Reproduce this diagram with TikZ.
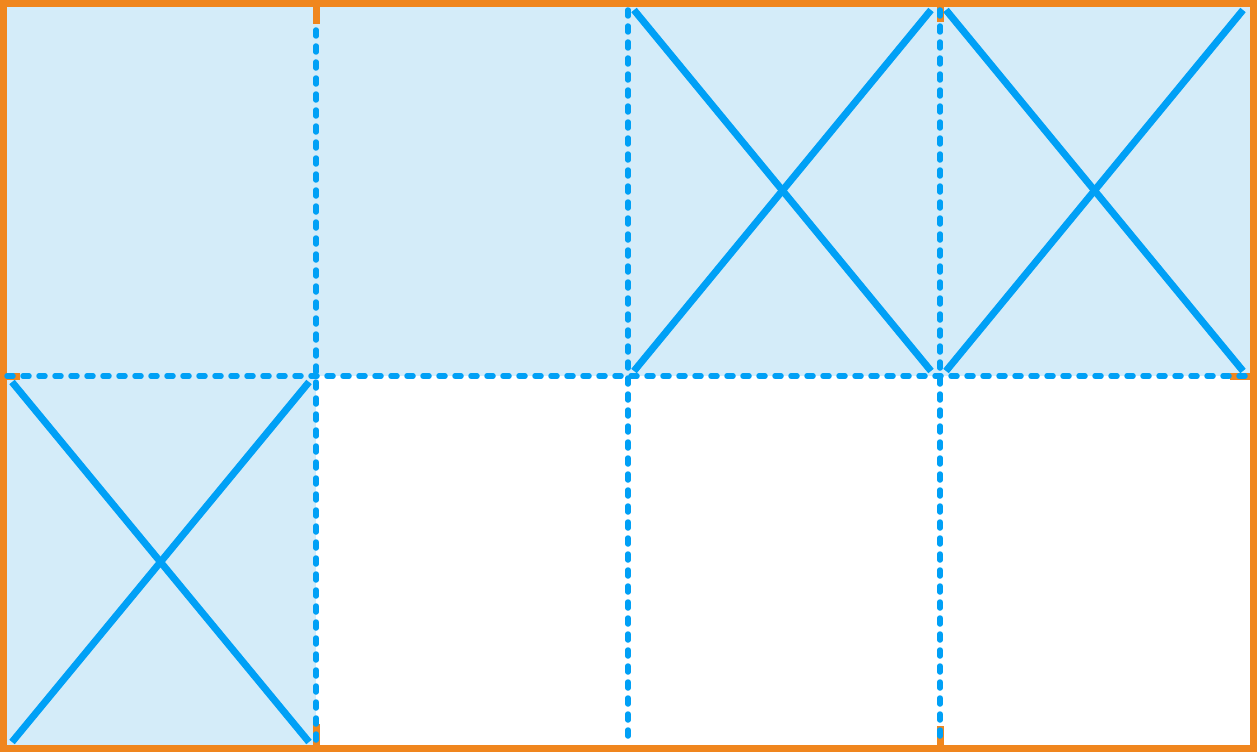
\documentclass[tikz,border=0pt]{standalone}
\definecolor{frameorange}{HTML}{F0861E}
\definecolor{gridblue}{HTML}{00A0F6}
\definecolor{cellfill}{HTML}{D4ECF9}
\tikzset{
  frame/.style={draw=frameorange, line width=7.5pt},
  tick/.style={draw=frameorange, line width=7pt},
  gridline/.style={draw=gridblue, line width=5.5pt, line cap=round, dash pattern=on 6pt off 10pt},
  crossline/.style={draw=gridblue, line width=7pt},
  cellbg/.style={fill=cellfill, draw=none}
}
\begin{document}
\begin{tikzpicture}[x=1pt,y=-1pt]
\useasboundingbox (0,0) rectangle (1257,752);
% fills
\path[cellbg] (0,0) rectangle (1257,376);
\path[cellbg] (0,376) rectangle (316,752);
% orange ticks
\draw[tick] (316,0) -- (316,24);
\draw[tick] (316,724) -- (316,752);
\draw[tick] (940,0) -- (940,22);
\draw[tick] (940,726) -- (940,752);
\draw[tick] (0,376) -- (20,376);
\draw[tick] (1230,376) -- (1257,376);
% frame
\draw[frame] (3.5,3.5) rectangle (1253.5,748.5);
% crosses
\draw[crossline] (634,10) -- (931,371);
\draw[crossline] (931,10) -- (634,371);
\draw[crossline] (946,10) -- (1243,371);
\draw[crossline] (1243,10) -- (946,371);
\draw[crossline] (12,382) -- (309,742);
\draw[crossline] (309,382) -- (12,742);
% dashed grid
\draw[gridline] (316,30) -- (316,745);
\draw[gridline] (628,10) -- (628,745);
\draw[gridline] (940,10) -- (940,745);
\draw[gridline] (7,376) -- (1250,376);
\end{tikzpicture}
\end{document}
